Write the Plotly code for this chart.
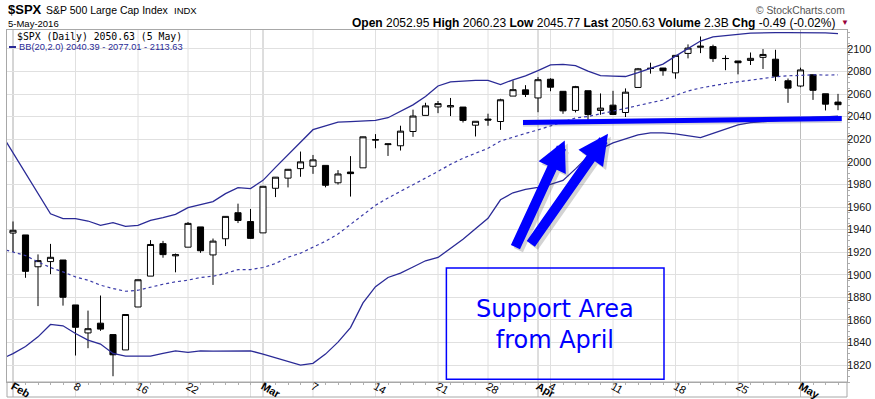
import plotly.graph_objects as go

# ---------------- data ----------------
dates = ["2016-02-01","2016-02-02","2016-02-03","2016-02-04","2016-02-05","2016-02-08","2016-02-09","2016-02-10","2016-02-11","2016-02-12",
         "2016-02-16","2016-02-17","2016-02-18","2016-02-19","2016-02-22","2016-02-23","2016-02-24","2016-02-25","2016-02-26","2016-02-29",
         "2016-03-01","2016-03-02","2016-03-03","2016-03-04","2016-03-07","2016-03-08","2016-03-09","2016-03-10","2016-03-11","2016-03-14",
         "2016-03-15","2016-03-16","2016-03-17","2016-03-18","2016-03-21","2016-03-22","2016-03-23","2016-03-24","2016-03-28","2016-03-29",
         "2016-03-30","2016-03-31","2016-04-01","2016-04-04","2016-04-05","2016-04-06","2016-04-07","2016-04-08","2016-04-11","2016-04-12",
         "2016-04-13","2016-04-14","2016-04-15","2016-04-18","2016-04-19","2016-04-20","2016-04-21","2016-04-22","2016-04-25","2016-04-26",
         "2016-04-27","2016-04-28","2016-04-29","2016-05-02","2016-05-03","2016-05-04","2016-05-05"]
opens = [1936.94,1935.26,1907.07,1911.67,1913.07,1873.25,1848.46,1857.10,1847.00,1833.40,
         1871.44,1898.80,1927.57,1916.74,1924.44,1942.38,1917.56,1931.87,1954.95,1947.13,
         1937.09,1976.60,1985.60,1994.01,1996.11,1996.88,1981.44,1990.97,1994.71,2019.27,
         2015.27,2014.24,2026.90,2041.16,2048.64,2048.64,2048.55,2032.48,2037.89,2035.75,
         2058.27,2063.77,2056.62,2073.19,2062.50,2045.56,2063.01,2045.54,2050.23,2043.72,
         2065.92,2082.89,2083.10,2078.83,2096.05,2101.52,2102.09,2091.49,2089.37,2089.84,
         2092.57,2090.93,2071.82,2067.17,2077.18,2060.30,2052.95]
highs = [1947.20,1935.26,1918.01,1927.35,1913.07,1873.25,1868.25,1881.60,1847.00,1864.78,
         1895.77,1930.68,1930.00,1918.78,1946.70,1942.38,1932.08,1951.83,1962.96,1958.27,
         1978.35,1986.51,1993.69,2009.13,2006.12,1996.88,1992.69,2005.08,2022.37,2024.57,
         2015.94,2032.02,2046.24,2052.36,2053.91,2056.60,2048.55,2036.04,2042.67,2055.91,
         2072.21,2067.92,2075.07,2074.02,2062.50,2067.33,2063.01,2060.63,2062.93,2065.05,
         2083.18,2087.84,2083.22,2094.66,2104.05,2111.05,2103.78,2094.32,2089.37,2096.87,
         2099.89,2099.30,2073.85,2083.42,2077.18,2060.30,2060.23]
lows = [1920.03,1897.29,1872.23,1900.52,1872.65,1828.46,1834.94,1850.32,1810.10,1833.40,
        1871.44,1898.80,1915.09,1902.17,1924.44,1919.44,1891.00,1925.41,1945.78,1931.81,
        1937.09,1968.80,1977.37,1986.77,1989.38,1977.43,1979.84,1969.25,1994.71,2012.05,
        2005.23,2010.04,2022.16,2041.16,2043.14,2040.57,2034.86,2022.49,2031.96,2028.31,
        2058.27,2057.46,2043.98,2062.57,2042.56,2043.78,2033.80,2041.69,2041.88,2039.74,
        2065.92,2078.13,2076.31,2073.65,2091.68,2096.32,2088.52,2081.20,2077.52,2085.80,
        2082.31,2071.62,2052.28,2066.11,2054.89,2045.55,2045.77]
closes = [1939.38,1903.03,1912.53,1915.45,1880.05,1853.44,1852.21,1851.86,1829.08,1864.78,
          1895.58,1926.82,1917.83,1917.78,1945.50,1921.27,1929.80,1951.70,1948.05,1932.23,
          1978.35,1986.45,1993.40,1999.99,2001.76,1979.26,1989.26,1989.57,2022.19,2019.64,
          2015.93,2027.22,2040.59,2049.58,2051.60,2049.80,2036.71,2035.94,2037.05,2055.01,
          2063.95,2059.74,2072.78,2066.13,2045.17,2066.66,2041.91,2047.60,2041.99,2061.72,
          2082.42,2082.78,2080.73,2094.34,2100.80,2102.40,2091.48,2091.58,2087.79,2091.70,
          2095.15,2075.81,2065.30,2081.43,2063.37,2051.12,2050.63]

# Bollinger band values (first value = 29-Jan, then one per trading day)
bb_upper = [2026.0,2007.9,1989.8,1971.7,1954.0,1949.7,1949.7,1947.6,1943.8,1946.2,
            1942.9,1943.8,1948.2,1950.6,1953.5,1959.5,1962.4,1964.8,1971.9,1977.2,
            1976.3,1983.6,1995.1,2006.3,2017.3,2028.5,2031.8,2035.2,2035.7,2036.1,
            2036.7,2039.1,2044.6,2050.5,2057.9,2067.2,2070.9,2071.8,2072.1,2072.1,
            2068.5,2072.7,2076.2,2080.9,2085.9,2086.4,2085.3,2080.4,2076.3,2076.0,
            2075.6,2079.0,2082.7,2086.6,2093.7,2100.4,2107.0,2110.8,2112.1,2113.0,
            2114.0,2114.5,2114.5,2114.5,2114.5,2114.5,2114.3,2113.63]
bb_middle = [1923.3,1920.2,1917.0,1911.4,1906.4,1902.5,1898.1,1895.2,1890.8,1887.8,
             1885.4,1886.3,1889.2,1891.6,1893.7,1895.2,1897.6,1898.7,1901.1,1904.6,
             1904.6,1906.4,1909.9,1915.5,1919.1,1924.1,1929.7,1936.1,1944.5,1953.5,
             1961.5,1968.0,1973.8,1980.0,1986.0,1991.5,1997.8,2003.2,2007.6,2012.0,
             2018.4,2022.1,2025.2,2028.3,2031.8,2035.8,2038.9,2040.2,2042.4,2044.6,
             2047.3,2049.9,2052.2,2054.8,2058.8,2062.8,2065.4,2067.6,2069.4,2070.9,
             2072.5,2074.1,2075.3,2076.2,2076.7,2077.1,2076.9,2077.01]
bb_lower = [1825.0,1830.2,1836.5,1845.0,1856.0,1854.8,1848.0,1842.1,1838.6,1830.3,
            1828.0,1828.0,1828.0,1830.3,1832.6,1831.2,1832.6,1832.4,1832.4,1832.4,
            1832.6,1829.7,1826.5,1822.9,1820.0,1821.5,1829.7,1840.3,1853.2,1875.1,
            1889.4,1897.6,1901.4,1906.9,1912.4,1915.3,1923.0,1931.4,1940.7,1950.0,
            1966.4,1972.6,1975.7,1977.4,1980.1,1983.6,1993.8,2004.8,2011.5,2016.8,
            2020.3,2023.9,2025.6,2025.6,2024.7,2023.0,2021.4,2025.2,2028.7,2032.7,
            2034.7,2035.6,2036.7,2037.8,2038.5,2039.3,2039.8,2040.39]

tick_dates = ["2016-02-01","2016-02-08","2016-02-16","2016-02-22","2016-03-01","2016-03-07","2016-03-14",
              "2016-03-21","2016-03-28","2016-04-01","2016-04-04","2016-04-11","2016-04-18","2016-04-25","2016-05-02"]
tick_labels = ["<b>Feb</b>","8","16","22","<b>Mar</b>","7","14","21","28","<b>Apr</b>","4","11","18","25","<b>May</b>"]
week_dates = ["2016-02-01","2016-02-08","2016-02-16","2016-02-22","2016-02-29","2016-03-07","2016-03-14",
              "2016-03-21","2016-03-28","2016-04-04","2016-04-11","2016-04-18","2016-04-25","2016-05-02"]
month_dates = ["2016-02-01","2016-03-01","2016-04-01","2016-05-02"]
y_ticks = list(range(1820, 2101, 20))

# ---------------- geometry helpers ----------------
W, H = 875, 399
ML, MR, MT, MB = 7, 28, 30, 17
def PX(p):
    return (p - ML) / (W - ML - MR)
def PY(p):
    return (H - MB - p) / (H - MT - MB)

pos = {d: i for i, d in enumerate(dates)}
x_idx = list(range(len(dates)))
bb_x = list(range(-1, len(dates)))
NAVY = "#2a2a96"
BLUE = "#0000ff"
FONT = "Liberation Sans"

fig = go.Figure()
fig.add_trace(go.Candlestick(
    x=x_idx, open=opens, high=highs, low=lows, close=closes,
    increasing=dict(line=dict(color="black", width=1), fillcolor="white"),
    decreasing=dict(line=dict(color="black", width=1), fillcolor="black"),
    whiskerwidth=0, showlegend=False, hoverinfo="skip"))
fig.add_trace(go.Scatter(x=bb_x, y=bb_upper, mode="lines", line=dict(color=NAVY, width=1.3),
                         showlegend=False, hoverinfo="skip"))
fig.add_trace(go.Scatter(x=bb_x, y=bb_lower, mode="lines", line=dict(color=NAVY, width=1.3),
                         showlegend=False, hoverinfo="skip"))
fig.add_trace(go.Scatter(x=bb_x, y=bb_middle, mode="lines", line=dict(color="#3a3aa8", width=1.2, dash="dot"),
                         showlegend=False, hoverinfo="skip"))

shapes = []
for d in week_dates:
    shapes.append(dict(type="line", xref="x", yref="paper", x0=pos[d], x1=pos[d], y0=PY(397), y1=1,
                       line=dict(color="#e0e0e0", width=1), layer="below"))
for d in month_dates:
    shapes.append(dict(type="line", xref="x", yref="paper", x0=pos[d], x1=pos[d], y0=PY(397), y1=1,
                       line=dict(color="#bcbcbc", width=1), layer="below"))
shapes.append(dict(type="rect", xref="paper", yref="paper", x0=0, x1=1, y0=PY(397), y1=0,
                   line=dict(color="#a8a8a8", width=1), layer="below"))
shapes.append(dict(type="rect", xref="x", yref="y", x0=34.67, x1=52.08, y0=1807.4, y1=1906.0,
                   line=dict(color=BLUE, width=1.5)))
shapes.append(dict(type="line", xref="x", yref="y", x0=40.8, y0=2034.3, x1=66.3, y1=2037.8,
                   line=dict(color="rgba(90,90,120,0.25)", width=7)))
shapes.append(dict(type="line", xref="x", yref="y", x0=40.8, y0=2034.9, x1=66.3, y1=2038.3,
                   line=dict(color=BLUE, width=5)))
shapes.append(dict(type="line", xref="paper", yref="paper", x0=PX(9), x1=PX(16), y0=PY(47), y1=PY(47),
                   line=dict(color=NAVY, width=2)))

ann = []
def txt(x, y, s, size, xanchor="left", color="black", family=FONT):
    ann.append(dict(xref="paper", yref="paper", x=PX(x), y=PY(y), text=s, showarrow=False,
                    xanchor=xanchor, yanchor="middle", font=dict(size=size, color=color, family=family)))

txt(6, 9, "<b>$SPX</b>", 13)
txt(44, 10, "S&P 500 Large Cap Index", 10.5)
txt(172, 10.5, "INDX", 9.5)
txt(6, 23.5, "5-May-2016", 9.5)
txt(847, 10.5, "© StockCharts.com", 10.3, xanchor="right", color="#555555")
chg = closes[-1] - closes[-2]
pct = chg / closes[-2] * 100
hdr = ("<b>Open</b> %.2f <b>High</b> %.2f <b>Low</b> %.2f <b>Last</b> %.2f <b>Volume</b> 2.3B <b>Chg</b> %.2f (%.2f%%)"
       % (opens[-1], highs[-1], lows[-1], closes[-1], chg, pct))
txt(837, 22.5, hdr, 12, xanchor="right")
txt(839, 22, "▼", 8, color="#99003a")
txt(15, 36.5, "$SPX (Daily) %.2f (5 May)" % closes[-1], 9.8, family="DejaVu Sans Mono")
txt(17, 47, "BB(20,2.0) %.2f - %.2f - %.2f" % (bb_lower[-1], bb_middle[-1], bb_upper[-1]), 9.3, color=NAVY)

ann.append(dict(xref="x", yref="y", x=43.37, y=1856.3, text="Support Area<br>from April", showarrow=False,
                xanchor="center", yanchor="middle", align="center",
                font=dict(size=24, color=BLUE, family="DejaVu Sans")))

arrows = [((44.14, 2019.0), (40.14, 1923.2)), ((47.6, 2024.9), (41.34, 1926.1))]
for (tx, ty), (sx, sy) in arrows:
    ann.append(dict(xref="x", yref="y", axref="x", ayref="y", x=tx, y=ty, ax=sx, ay=sy, text="",
                    showarrow=True, arrowhead=2, arrowsize=0.6, arrowwidth=10,
                    arrowcolor="rgba(60,60,60,0.22)", xshift=3, yshift=-3))
for (tx, ty), (sx, sy) in arrows:
    ann.append(dict(xref="x", yref="y", axref="x", ayref="y", x=tx, y=ty, ax=sx, ay=sy, text="",
                    showarrow=True, arrowhead=2, arrowsize=0.6, arrowwidth=10, arrowcolor=BLUE))

fig.update_layout(
    width=W, height=H, margin=dict(l=ML, r=MR, t=MT, b=MB, pad=0, autoexpand=False),
    paper_bgcolor="white", plot_bgcolor="white", showlegend=False,
    font=dict(family=FONT, size=11, color="black"),
    shapes=shapes, annotations=ann,
    xaxis=dict(range=[-0.48, 66.72], tickmode="array", tickvals=[pos[d] for d in tick_dates],
               ticktext=tick_labels, showgrid=False, zeroline=False, ticks="", automargin=False,
               ticklabelstandoff=-7,
               showline=True, linecolor="#a8a8a8", mirror=True, rangeslider=dict(visible=False),
               tickfont=dict(size=11, family=FONT, color="black"),
               minor=dict(tickmode="linear", tick0=0, dtick=1, ticks="outside", ticklen=2,
                          tickcolor="#b0b0b0", showgrid=False)),
    yaxis=dict(range=[1805, 2116.8], side="right", tickmode="array", tickvals=y_ticks, automargin=False,
               ticklabelstandoff=-5,
               showgrid=True, gridcolor="#e0e0e0", zeroline=False, ticks="outside", ticklen=2,
               tickcolor="#a8a8a8", showline=True, linecolor="#a8a8a8", mirror=True,
               tickfont=dict(size=10.8, family=FONT, color="#111111"),
               minor=dict(tickmode="linear", tick0=1800, dtick=5, ticks="outside", ticklen=2,
                          tickcolor="#b0b0b0", showgrid=False)),
)

fig.write_html("out.html")
